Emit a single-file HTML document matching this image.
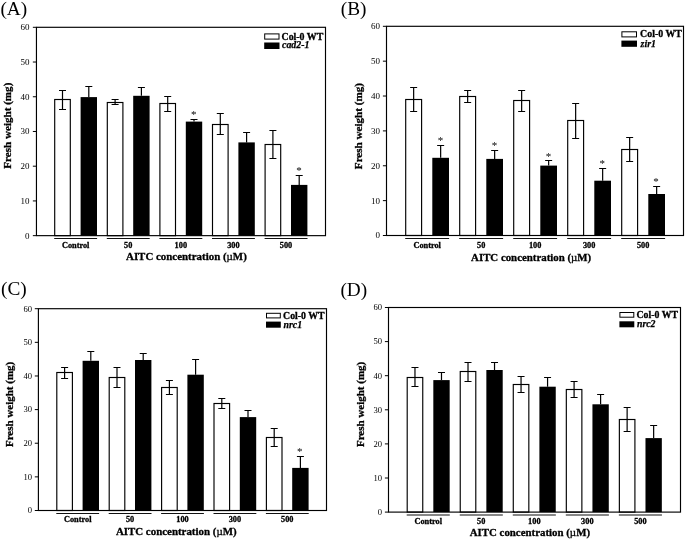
<!DOCTYPE html>
<html lang="en"><head><meta charset="utf-8"><title>Figure</title>
<style>html,body{margin:0;padding:0;background:#fff;}svg{display:block;will-change:transform;}text{font-family:'Liberation Serif', 'DejaVu Serif', serif;fill:#000;}.b{font-weight:bold;stroke:#000;stroke-width:0.3px;}.bi{font-weight:bold;font-style:italic;stroke:#000;stroke-width:0.25px;}</style>
</head><body>
<svg width="685" height="540" viewBox="0 0 685 540">
<rect x="0" y="0" width="685" height="540" fill="#fff"/>
<g>
<text x="0.4" y="14.9" font-size="19.3">(A)</text>
<rect x="54.7" y="99.5" width="15.6" height="136.15" fill="#fff" stroke="#000" stroke-width="1.15"/>
<path d="M62.5 90.5V109.5M59 90.5H66M59 109.5H66" stroke="#000" stroke-width="1.2" fill="none"/>
<rect x="80.6" y="97.1" width="16.4" height="138.55" fill="#000"/>
<path d="M88.8 86.5V97.1M85.3 86.5H92.3" stroke="#000" stroke-width="1.2" fill="none"/>
<rect x="107.3" y="102.5" width="15.6" height="133.15" fill="#fff" stroke="#000" stroke-width="1.15"/>
<path d="M115.1 99.5V104.5M111.6 99.5H118.6M111.6 104.5H118.6" stroke="#000" stroke-width="1.2" fill="none"/>
<rect x="133.2" y="95.8" width="16.4" height="139.85" fill="#000"/>
<path d="M141.4 87.5V95.8M137.9 87.5H144.9" stroke="#000" stroke-width="1.2" fill="none"/>
<rect x="159.9" y="103.5" width="15.6" height="132.15" fill="#fff" stroke="#000" stroke-width="1.15"/>
<path d="M167.7 96.5V111.5M164.2 96.5H171.2M164.2 111.5H171.2" stroke="#000" stroke-width="1.2" fill="none"/>
<rect x="185.8" y="121.6" width="16.4" height="114.05" fill="#000"/>
<path d="M194 119.5V121.6M190.5 119.5H197.5" stroke="#000" stroke-width="1.2" fill="none"/>
<rect x="212.5" y="124.5" width="15.6" height="111.15" fill="#fff" stroke="#000" stroke-width="1.15"/>
<path d="M220.3 113.5V134.5M216.8 113.5H223.8M216.8 134.5H223.8" stroke="#000" stroke-width="1.2" fill="none"/>
<rect x="238.4" y="142.4" width="16.4" height="93.25" fill="#000"/>
<path d="M246.6 132.5V142.4M243.1 132.5H250.1" stroke="#000" stroke-width="1.2" fill="none"/>
<rect x="265.1" y="144.5" width="15.6" height="91.15" fill="#fff" stroke="#000" stroke-width="1.15"/>
<path d="M272.9 130.5V158.5M269.4 130.5H276.4M269.4 158.5H276.4" stroke="#000" stroke-width="1.2" fill="none"/>
<rect x="291" y="184.9" width="16.4" height="50.75" fill="#000"/>
<path d="M299.2 175.5V184.9M295.7 175.5H302.7" stroke="#000" stroke-width="1.2" fill="none"/>
<rect x="36.45" y="27.3" width="289.05" height="208.35" fill="none" stroke="#000" stroke-width="1.15"/>
<path d="M32.85 235.65H36.45" stroke="#000" stroke-width="1"/>
<text x="29.5" y="238.62" font-size="9" text-anchor="end" fill="#222">0</text>
<path d="M32.85 200.93H36.45" stroke="#000" stroke-width="1"/>
<text x="29.5" y="203.9" font-size="9" text-anchor="end" fill="#222">10</text>
<path d="M32.85 166.2H36.45" stroke="#000" stroke-width="1"/>
<text x="29.5" y="169.17" font-size="9" text-anchor="end" fill="#222">20</text>
<path d="M32.85 131.48H36.45" stroke="#000" stroke-width="1"/>
<text x="29.5" y="134.45" font-size="9" text-anchor="end" fill="#222">30</text>
<path d="M32.85 96.75H36.45" stroke="#000" stroke-width="1"/>
<text x="29.5" y="99.72" font-size="9" text-anchor="end" fill="#222">40</text>
<path d="M32.85 62.03H36.45" stroke="#000" stroke-width="1"/>
<text x="29.5" y="65" font-size="9" text-anchor="end" fill="#222">50</text>
<path d="M32.85 27.3H36.45" stroke="#000" stroke-width="1"/>
<text x="29.5" y="30.27" font-size="9" text-anchor="end" fill="#222">60</text>
<text x="193.8" y="117.7" font-size="11" text-anchor="middle" fill="#555">*</text>
<text x="299.1" y="174.4" font-size="11" text-anchor="middle" fill="#555">*</text>
<rect x="264.7" y="33.9" width="14.3" height="5.2" fill="#fff" stroke="#000" stroke-width="1"/>
<rect x="264.2" y="42.5" width="15.3" height="6.5" fill="#000"/>
<text class="b" x="281.5" y="39.6" font-size="9.9">Col-0 WT</text>
<text class="bi" x="282" y="48.4" font-size="9.9">cad2-1</text>
<path d="M54.2 238.5H97.1" stroke="#111" stroke-width="1.15"/>
<text class="b" x="75.65" y="247.8" font-size="8.3" text-anchor="middle">Control</text>
<path d="M106.8 238.5H149.7" stroke="#111" stroke-width="1.15"/>
<text class="b" x="128.25" y="247.8" font-size="8.3" text-anchor="middle">50</text>
<path d="M159.4 238.5H202.3" stroke="#111" stroke-width="1.15"/>
<text class="b" x="180.85" y="247.8" font-size="8.3" text-anchor="middle">100</text>
<path d="M212 238.5H254.9" stroke="#111" stroke-width="1.15"/>
<text class="b" x="233.45" y="247.8" font-size="8.3" text-anchor="middle">300</text>
<path d="M264.6 238.5H307.5" stroke="#111" stroke-width="1.15"/>
<text class="b" x="286.05" y="247.8" font-size="8.3" text-anchor="middle">500</text>
<text class="b" x="126" y="260.1" font-size="11" textLength="120.8" lengthAdjust="spacingAndGlyphs">AITC concentration (<tspan font-weight="normal">µ</tspan>M)</text>
<text class="b" transform="translate(10.8 125.7) rotate(-90)" font-size="11.1" text-anchor="middle">Fresh weight (mg)</text>
</g>
<g>
<text x="340.8" y="14.9" font-size="19.3">(B)</text>
<rect x="405.7" y="99.5" width="15.9" height="136" fill="#fff" stroke="#000" stroke-width="1.15"/>
<path d="M413.65 87.5V111.5M410.15 87.5H417.15M410.15 111.5H417.15" stroke="#000" stroke-width="1.2" fill="none"/>
<rect x="432.3" y="157.8" width="16.7" height="77.7" fill="#000"/>
<path d="M440.65 145.5V157.8M437.15 145.5H444.15" stroke="#000" stroke-width="1.2" fill="none"/>
<rect x="459.7" y="96.5" width="15.9" height="139" fill="#fff" stroke="#000" stroke-width="1.15"/>
<path d="M467.65 90.5V102.5M464.15 90.5H471.15M464.15 102.5H471.15" stroke="#000" stroke-width="1.2" fill="none"/>
<rect x="486.3" y="158.9" width="16.7" height="76.6" fill="#000"/>
<path d="M494.65 150.5V158.9M491.15 150.5H498.15" stroke="#000" stroke-width="1.2" fill="none"/>
<rect x="513.7" y="100.5" width="15.9" height="135" fill="#fff" stroke="#000" stroke-width="1.15"/>
<path d="M521.65 90.5V111.5M518.15 90.5H525.15M518.15 111.5H525.15" stroke="#000" stroke-width="1.2" fill="none"/>
<rect x="540.3" y="165.6" width="16.7" height="69.9" fill="#000"/>
<path d="M548.65 160.5V165.6M545.15 160.5H552.15" stroke="#000" stroke-width="1.2" fill="none"/>
<rect x="567.7" y="120.5" width="15.9" height="115" fill="#fff" stroke="#000" stroke-width="1.15"/>
<path d="M575.65 103.5V138.5M572.15 103.5H579.15M572.15 138.5H579.15" stroke="#000" stroke-width="1.2" fill="none"/>
<rect x="594.3" y="180.7" width="16.7" height="54.8" fill="#000"/>
<path d="M602.65 168.5V180.7M599.15 168.5H606.15" stroke="#000" stroke-width="1.2" fill="none"/>
<rect x="621.7" y="149.5" width="15.9" height="86" fill="#fff" stroke="#000" stroke-width="1.15"/>
<path d="M629.65 137.5V161.5M626.15 137.5H633.15M626.15 161.5H633.15" stroke="#000" stroke-width="1.2" fill="none"/>
<rect x="648.3" y="194" width="16.7" height="41.5" fill="#000"/>
<path d="M656.65 186.5V194M653.15 186.5H660.15" stroke="#000" stroke-width="1.2" fill="none"/>
<rect x="386.5" y="26.3" width="297" height="209.2" fill="none" stroke="#000" stroke-width="1.15"/>
<path d="M382.9 235.5H386.5" stroke="#000" stroke-width="1"/>
<text x="380" y="238.47" font-size="9" text-anchor="end" fill="#222">0</text>
<path d="M382.9 200.63H386.5" stroke="#000" stroke-width="1"/>
<text x="380" y="203.6" font-size="9" text-anchor="end" fill="#222">10</text>
<path d="M382.9 165.77H386.5" stroke="#000" stroke-width="1"/>
<text x="380" y="168.74" font-size="9" text-anchor="end" fill="#222">20</text>
<path d="M382.9 130.9H386.5" stroke="#000" stroke-width="1"/>
<text x="380" y="133.87" font-size="9" text-anchor="end" fill="#222">30</text>
<path d="M382.9 96.03H386.5" stroke="#000" stroke-width="1"/>
<text x="380" y="99" font-size="9" text-anchor="end" fill="#222">40</text>
<path d="M382.9 61.17H386.5" stroke="#000" stroke-width="1"/>
<text x="380" y="64.14" font-size="9" text-anchor="end" fill="#222">50</text>
<path d="M382.9 26.3H386.5" stroke="#000" stroke-width="1"/>
<text x="380" y="29.27" font-size="9" text-anchor="end" fill="#222">60</text>
<text x="440.6" y="144.4" font-size="11" text-anchor="middle" fill="#555">*</text>
<text x="494.6" y="148.8" font-size="11" text-anchor="middle" fill="#555">*</text>
<text x="548.4" y="159.5" font-size="11" text-anchor="middle" fill="#555">*</text>
<text x="602.2" y="167.2" font-size="11" text-anchor="middle" fill="#555">*</text>
<text x="656" y="185.2" font-size="11" text-anchor="middle" fill="#555">*</text>
<rect x="621.9" y="31.8" width="14.6" height="5.1" fill="#fff" stroke="#000" stroke-width="1"/>
<rect x="621.4" y="40.6" width="15.6" height="6.2" fill="#000"/>
<text class="b" x="640.1" y="37.3" font-size="9.9">Col-0 WT</text>
<text class="bi" x="640.6" y="46.8" font-size="9.9">zir1</text>
<path d="M405.2 238.5H449.1" stroke="#111" stroke-width="1.15"/>
<text class="b" x="427.15" y="247.8" font-size="8.3" text-anchor="middle">Control</text>
<path d="M459.2 238.5H503.1" stroke="#111" stroke-width="1.15"/>
<text class="b" x="481.15" y="247.8" font-size="8.3" text-anchor="middle">50</text>
<path d="M513.2 238.5H557.1" stroke="#111" stroke-width="1.15"/>
<text class="b" x="535.15" y="247.8" font-size="8.3" text-anchor="middle">100</text>
<path d="M567.2 238.5H611.1" stroke="#111" stroke-width="1.15"/>
<text class="b" x="589.15" y="247.8" font-size="8.3" text-anchor="middle">300</text>
<path d="M621.2 238.5H665.1" stroke="#111" stroke-width="1.15"/>
<text class="b" x="643.15" y="247.8" font-size="8.3" text-anchor="middle">500</text>
<text class="b" x="471.1" y="260.6" font-size="11" textLength="120" lengthAdjust="spacingAndGlyphs">AITC concentration (<tspan font-weight="normal">µ</tspan>M)</text>
<text class="b" transform="translate(362.1 126.1) rotate(-90)" font-size="11.1" text-anchor="middle">Fresh weight (mg)</text>
</g>
<g>
<text x="1" y="295.4" font-size="19.3">(C)</text>
<rect x="56.8" y="372.5" width="15.6" height="138" fill="#fff" stroke="#000" stroke-width="1.15"/>
<path d="M64.6 367.5V378.5M61.1 367.5H68.1M61.1 378.5H68.1" stroke="#000" stroke-width="1.2" fill="none"/>
<rect x="82.6" y="360.8" width="16.4" height="149.7" fill="#000"/>
<path d="M90.8 351.5V360.8M87.3 351.5H94.3" stroke="#000" stroke-width="1.2" fill="none"/>
<rect x="109.2" y="377.5" width="15.6" height="133" fill="#fff" stroke="#000" stroke-width="1.15"/>
<path d="M117 367.5V387.5M113.5 367.5H120.5M113.5 387.5H120.5" stroke="#000" stroke-width="1.2" fill="none"/>
<rect x="135" y="360" width="16.4" height="150.5" fill="#000"/>
<path d="M143.2 353.5V360M139.7 353.5H146.7" stroke="#000" stroke-width="1.2" fill="none"/>
<rect x="161.6" y="387.5" width="15.6" height="123" fill="#fff" stroke="#000" stroke-width="1.15"/>
<path d="M169.4 380.5V394.5M165.9 380.5H172.9M165.9 394.5H172.9" stroke="#000" stroke-width="1.2" fill="none"/>
<rect x="187.4" y="374.7" width="16.4" height="135.8" fill="#000"/>
<path d="M195.6 359.5V374.7M192.1 359.5H199.1" stroke="#000" stroke-width="1.2" fill="none"/>
<rect x="214" y="403.5" width="15.6" height="107" fill="#fff" stroke="#000" stroke-width="1.15"/>
<path d="M221.8 398.5V408.5M218.3 398.5H225.3M218.3 408.5H225.3" stroke="#000" stroke-width="1.2" fill="none"/>
<rect x="239.8" y="417.1" width="16.4" height="93.4" fill="#000"/>
<path d="M248 410.5V417.1M244.5 410.5H251.5" stroke="#000" stroke-width="1.2" fill="none"/>
<rect x="266.4" y="437.5" width="15.6" height="73" fill="#fff" stroke="#000" stroke-width="1.15"/>
<path d="M274.2 428.5V446.5M270.7 428.5H277.7M270.7 446.5H277.7" stroke="#000" stroke-width="1.2" fill="none"/>
<rect x="292.2" y="467.9" width="16.4" height="42.6" fill="#000"/>
<path d="M300.4 456.5V467.9M296.9 456.5H303.9" stroke="#000" stroke-width="1.2" fill="none"/>
<rect x="38.4" y="308.7" width="288.1" height="201.8" fill="none" stroke="#000" stroke-width="1.15"/>
<path d="M34.8 510.5H38.4" stroke="#000" stroke-width="1"/>
<text x="32" y="513.34" font-size="8.6" text-anchor="end" fill="#222">0</text>
<path d="M34.8 476.87H38.4" stroke="#000" stroke-width="1"/>
<text x="32" y="479.7" font-size="8.6" text-anchor="end" fill="#222">10</text>
<path d="M34.8 443.23H38.4" stroke="#000" stroke-width="1"/>
<text x="32" y="446.07" font-size="8.6" text-anchor="end" fill="#222">20</text>
<path d="M34.8 409.6H38.4" stroke="#000" stroke-width="1"/>
<text x="32" y="412.44" font-size="8.6" text-anchor="end" fill="#222">30</text>
<path d="M34.8 375.97H38.4" stroke="#000" stroke-width="1"/>
<text x="32" y="378.8" font-size="8.6" text-anchor="end" fill="#222">40</text>
<path d="M34.8 342.33H38.4" stroke="#000" stroke-width="1"/>
<text x="32" y="345.17" font-size="8.6" text-anchor="end" fill="#222">50</text>
<path d="M34.8 308.7H38.4" stroke="#000" stroke-width="1"/>
<text x="32" y="311.54" font-size="8.6" text-anchor="end" fill="#222">60</text>
<text x="299.7" y="454.5" font-size="11" text-anchor="middle" fill="#555">*</text>
<rect x="266.5" y="313.3" width="13.8" height="4.6" fill="#fff" stroke="#000" stroke-width="1"/>
<rect x="266" y="321.6" width="14.8" height="6.1" fill="#000"/>
<text class="b" x="283.1" y="318.6" font-size="9.8">Col-0 WT</text>
<text class="bi" x="283.6" y="327.8" font-size="9.8">nrc1</text>
<path d="M56.3 513.5H99.1" stroke="#111" stroke-width="1.15"/>
<text class="b" x="77.7" y="522.3" font-size="8.3" text-anchor="middle">Control</text>
<path d="M108.7 513.5H151.5" stroke="#111" stroke-width="1.15"/>
<text class="b" x="130.1" y="522.3" font-size="8.3" text-anchor="middle">50</text>
<path d="M161.1 513.5H203.9" stroke="#111" stroke-width="1.15"/>
<text class="b" x="182.5" y="522.3" font-size="8.3" text-anchor="middle">100</text>
<path d="M213.5 513.5H256.3" stroke="#111" stroke-width="1.15"/>
<text class="b" x="234.9" y="522.3" font-size="8.3" text-anchor="middle">300</text>
<path d="M265.9 513.5H308.7" stroke="#111" stroke-width="1.15"/>
<text class="b" x="287.3" y="522.3" font-size="8.3" text-anchor="middle">500</text>
<text class="b" x="115.9" y="535.2" font-size="11" textLength="120.7" lengthAdjust="spacingAndGlyphs">AITC concentration (<tspan font-weight="normal">µ</tspan>M)</text>
<text class="b" transform="translate(13.2 404.4) rotate(-90)" font-size="11" text-anchor="middle">Fresh weight (mg)</text>
</g>
<g>
<text x="340.4" y="295.7" font-size="19.3">(D)</text>
<rect x="407.2" y="377.5" width="15.55" height="134.6" fill="#fff" stroke="#000" stroke-width="1.15"/>
<path d="M414.97 367.5V386.5M411.47 367.5H418.47M411.47 386.5H418.47" stroke="#000" stroke-width="1.2" fill="none"/>
<rect x="433.32" y="380.1" width="16.35" height="132" fill="#000"/>
<path d="M441.49 372.5V380.1M437.99 372.5H444.99" stroke="#000" stroke-width="1.2" fill="none"/>
<rect x="460.24" y="371.5" width="15.55" height="140.6" fill="#fff" stroke="#000" stroke-width="1.15"/>
<path d="M468.01 362.5V381.5M464.51 362.5H471.51M464.51 381.5H471.51" stroke="#000" stroke-width="1.2" fill="none"/>
<rect x="486.36" y="370" width="16.35" height="142.1" fill="#000"/>
<path d="M494.53 362.5V370M491.03 362.5H498.03" stroke="#000" stroke-width="1.2" fill="none"/>
<rect x="513.28" y="384.5" width="15.55" height="127.6" fill="#fff" stroke="#000" stroke-width="1.15"/>
<path d="M521.05 376.5V392.5M517.55 376.5H524.55M517.55 392.5H524.55" stroke="#000" stroke-width="1.2" fill="none"/>
<rect x="539.4" y="386.7" width="16.35" height="125.4" fill="#000"/>
<path d="M547.57 377.5V386.7M544.07 377.5H551.07" stroke="#000" stroke-width="1.2" fill="none"/>
<rect x="566.32" y="389.5" width="15.55" height="122.6" fill="#fff" stroke="#000" stroke-width="1.15"/>
<path d="M574.09 381.5V397.5M570.59 381.5H577.59M570.59 397.5H577.59" stroke="#000" stroke-width="1.2" fill="none"/>
<rect x="592.44" y="404.3" width="16.35" height="107.8" fill="#000"/>
<path d="M600.61 394.5V404.3M597.11 394.5H604.11" stroke="#000" stroke-width="1.2" fill="none"/>
<rect x="619.36" y="419.5" width="15.55" height="92.6" fill="#fff" stroke="#000" stroke-width="1.15"/>
<path d="M627.13 407.5V431.5M623.63 407.5H630.63M623.63 431.5H630.63" stroke="#000" stroke-width="1.2" fill="none"/>
<rect x="645.48" y="438.1" width="16.35" height="74" fill="#000"/>
<path d="M653.65 425.5V438.1M650.15 425.5H657.15" stroke="#000" stroke-width="1.2" fill="none"/>
<rect x="388.5" y="307.5" width="292" height="204.6" fill="none" stroke="#000" stroke-width="1.15"/>
<path d="M384.9 512.1H388.5" stroke="#000" stroke-width="1"/>
<text x="382" y="514.94" font-size="8.6" text-anchor="end" fill="#222">0</text>
<path d="M384.9 478H388.5" stroke="#000" stroke-width="1"/>
<text x="382" y="480.84" font-size="8.6" text-anchor="end" fill="#222">10</text>
<path d="M384.9 443.9H388.5" stroke="#000" stroke-width="1"/>
<text x="382" y="446.74" font-size="8.6" text-anchor="end" fill="#222">20</text>
<path d="M384.9 409.8H388.5" stroke="#000" stroke-width="1"/>
<text x="382" y="412.64" font-size="8.6" text-anchor="end" fill="#222">30</text>
<path d="M384.9 375.7H388.5" stroke="#000" stroke-width="1"/>
<text x="382" y="378.54" font-size="8.6" text-anchor="end" fill="#222">40</text>
<path d="M384.9 341.6H388.5" stroke="#000" stroke-width="1"/>
<text x="382" y="344.44" font-size="8.6" text-anchor="end" fill="#222">50</text>
<path d="M384.9 307.5H388.5" stroke="#000" stroke-width="1"/>
<text x="382" y="310.34" font-size="8.6" text-anchor="end" fill="#222">60</text>
<rect x="619.9" y="312.5" width="13.9" height="4.7" fill="#fff" stroke="#000" stroke-width="1"/>
<rect x="619.4" y="321.3" width="14.9" height="6" fill="#000"/>
<text class="b" x="636.5" y="317.9" font-size="9.8">Col-0 WT</text>
<text class="bi" x="637" y="327.4" font-size="9.8">nrc2</text>
<path d="M406.7 515H449.77" stroke="#111" stroke-width="1.15"/>
<text class="b" x="428.24" y="523.8" font-size="8.3" text-anchor="middle">Control</text>
<path d="M459.74 515H502.81" stroke="#111" stroke-width="1.15"/>
<text class="b" x="481.27" y="523.8" font-size="8.3" text-anchor="middle">50</text>
<path d="M512.78 515H555.85" stroke="#111" stroke-width="1.15"/>
<text class="b" x="534.31" y="523.8" font-size="8.3" text-anchor="middle">100</text>
<path d="M565.82 515H608.89" stroke="#111" stroke-width="1.15"/>
<text class="b" x="587.35" y="523.8" font-size="8.3" text-anchor="middle">300</text>
<path d="M618.86 515H661.93" stroke="#111" stroke-width="1.15"/>
<text class="b" x="640.39" y="523.8" font-size="8.3" text-anchor="middle">500</text>
<text class="b" x="469.7" y="536.2" font-size="11" textLength="120.3" lengthAdjust="spacingAndGlyphs">AITC concentration (<tspan font-weight="normal">µ</tspan>M)</text>
<text class="b" transform="translate(363.5 404.4) rotate(-90)" font-size="11" text-anchor="middle">Fresh weight (mg)</text>
</g>
</svg></body></html>
